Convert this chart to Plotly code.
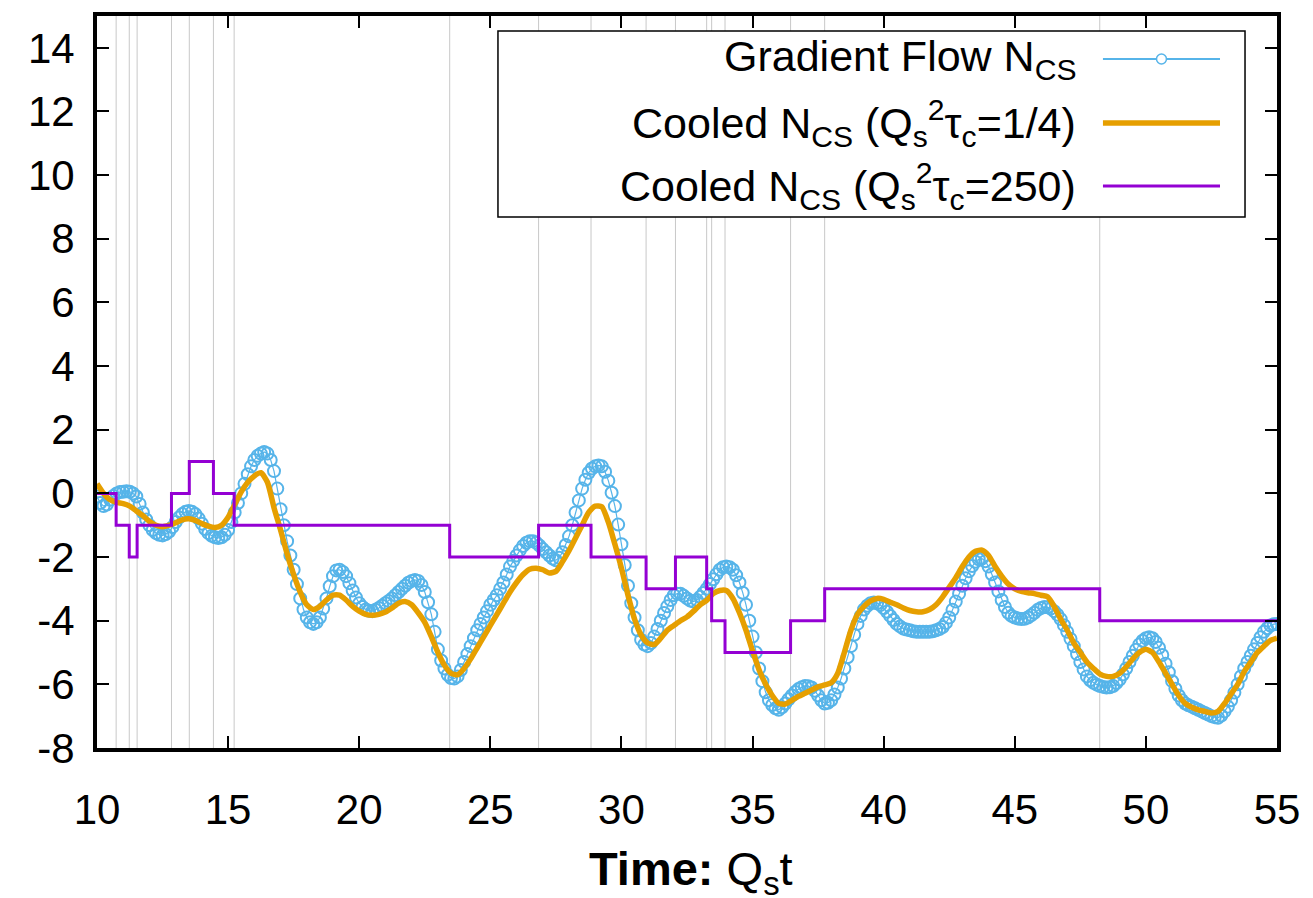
import plotly.graph_objects as go

# ---------------- data ----------------
# Gradient-flow N_CS, sampled every 0.125 in Qs*t (one row = one time unit)
t_grad = [10 + 0.125 * i for i in range(361)]
n_grad = [
    -0.10, -0.30, -0.40, -0.35, -0.20, -0.08, 0.00, 0.04,      # 10
    0.05, 0.07, 0.05, 0.00, -0.10, -0.33, -0.60, -0.82,        # 11
    -1.00, -1.15, -1.25, -1.30, -1.32, -1.28, -1.20, -1.06,    # 12
    -0.90, -0.76, -0.65, -0.58, -0.55, -0.58, -0.65, -0.79,    # 13
    -0.95, -1.12, -1.25, -1.33, -1.38, -1.40, -1.38, -1.30,    # 14
    -1.15, -0.90, -0.60, -0.30, 0.00, 0.30, 0.60, 0.85,        # 15
    1.05, 1.18, 1.25, 1.30, 1.25, 1.05, 0.70, 0.15,            # 16
    -0.50, -1.00, -1.50, -1.95, -2.40, -2.85, -3.30, -3.65,    # 17
    -3.90, -4.05, -4.10, -4.05, -3.90, -3.62, -3.30, -2.92,    # 18
    -2.60, -2.42, -2.40, -2.47, -2.60, -2.82, -3.05, -3.27,    # 19
    -3.45, -3.57, -3.65, -3.69, -3.70, -3.66, -3.60, -3.53,    # 20
    -3.45, -3.38, -3.30, -3.20, -3.10, -3.00, -2.90, -2.81,    # 21
    -2.75, -2.72, -2.75, -2.88, -3.10, -3.42, -3.80, -4.35,    # 22
    -4.90, -5.25, -5.50, -5.70, -5.80, -5.82, -5.75, -5.55,    # 23
    -5.30, -5.05, -4.80, -4.55, -4.30, -4.10, -3.90, -3.70,    # 24
    -3.50, -3.35, -3.20, -3.00, -2.80, -2.55, -2.30, -2.12,    # 25
    -1.95, -1.79, -1.65, -1.55, -1.50, -1.50, -1.55, -1.64,    # 26
    -1.75, -1.85, -1.95, -2.05, -2.10, -2.02, -1.85, -1.62,    # 27
    -1.35, -1.00, -0.60, -0.22, 0.15, 0.43, 0.65, 0.78,        # 28
    0.85, 0.88, 0.85, 0.68, 0.40, 0.02, -0.40, -0.98,          # 29
    -1.60, -2.25, -2.90, -3.45, -3.90, -4.30, -4.60, -4.75,    # 30
    -4.80, -4.70, -4.50, -4.26, -4.00, -3.76, -3.55, -3.35,    # 31
    -3.20, -3.15, -3.15, -3.22, -3.30, -3.37, -3.40, -3.35,    # 32
    -3.25, -3.13, -3.00, -2.85, -2.70, -2.54, -2.40, -2.32,    # 33
    -2.30, -2.32, -2.40, -2.57, -2.80, -3.12, -3.50, -4.00,    # 34
    -4.50, -5.00, -5.50, -5.90, -6.25, -6.50, -6.65, -6.75,    # 35
    -6.80, -6.72, -6.60, -6.47, -6.35, -6.24, -6.15, -6.09,    # 36
    -6.05, -6.06, -6.10, -6.20, -6.35, -6.50, -6.60, -6.58,    # 37
    -6.50, -6.32, -6.10, -5.82, -5.50, -5.15, -4.80, -4.44,    # 38
    -4.10, -3.85, -3.65, -3.53, -3.45, -3.43, -3.45, -3.51,    # 39
    -3.60, -3.72, -3.85, -3.98, -4.10, -4.18, -4.25, -4.28,    # 40
    -4.30, -4.33, -4.35, -4.35, -4.35, -4.35, -4.35, -4.33,    # 41
    -4.30, -4.26, -4.20, -4.07, -3.90, -3.66, -3.40, -3.15,    # 42
    -2.90, -2.67, -2.45, -2.28, -2.15, -2.07, -2.05, -2.13,    # 43
    -2.30, -2.54, -2.80, -3.08, -3.35, -3.57, -3.75, -3.85,    # 44
    -3.90, -3.93, -3.95, -3.94, -3.90, -3.83, -3.75, -3.66,    # 45
    -3.60, -3.57, -3.58, -3.62, -3.70, -3.81, -3.95, -4.14,    # 46
    -4.35, -4.57, -4.80, -5.05, -5.30, -5.53, -5.75, -5.87,    # 47
    -5.95, -6.01, -6.05, -6.08, -6.10, -6.09, -6.05, -5.96,    # 48
    -5.85, -5.69, -5.50, -5.30, -5.10, -4.91, -4.75, -4.63,    # 49
    -4.55, -4.52, -4.55, -4.67, -4.85, -5.08, -5.35, -5.62,    # 50
    -5.90, -6.14, -6.35, -6.50, -6.60, -6.66, -6.70, -6.75,    # 51
    -6.80, -6.85, -6.90, -6.95, -7.00, -7.03, -7.05, -6.98,    # 52
    -6.85, -6.70, -6.50, -6.26, -6.00, -5.75, -5.50, -5.30,    # 53
    -5.10, -4.90, -4.70, -4.52, -4.35, -4.24, -4.15, -4.11,    # 54
    -4.10,                                                     # 55
]

# Cooled N_CS at Qs^2 tau_c = 1/4, sampled every 0.25
t_cool = [10 + 0.25 * i for i in range(181)]
n_cool_quarter = [
    0.30, 0.00, -0.20, -0.28, -0.32, -0.40, -0.55, -0.70, -0.88, -1.00,    # 10.0 - 12.25
    -1.05, -1.00, -0.92, -0.83, -0.80, -0.85, -0.95, -1.03, -1.07, -1.00,  # 12.5 - 14.75
    -0.75, -0.35, 0.05, 0.35, 0.55, 0.65, 0.35, -0.45, -1.15, -1.90,       # 15.0 - 17.25
    -2.55, -3.10, -3.50, -3.65, -3.55, -3.35, -3.20, -3.20, -3.35, -3.55,  # 17.5 - 19.75
    -3.70, -3.80, -3.83, -3.80, -3.73, -3.60, -3.45, -3.40, -3.50, -3.75,  # 20.0 - 22.25
    -4.05, -4.50, -5.00, -5.40, -5.65, -5.70, -5.50, -5.20, -4.85, -4.50,  # 22.5 - 24.75
    -4.15, -3.80, -3.45, -3.10, -2.80, -2.55, -2.38, -2.35, -2.40, -2.50,  # 25.0 - 27.25
    -2.45, -2.15, -1.80, -1.40, -1.00, -0.60, -0.40, -0.42, -0.90, -1.60,  # 27.5 - 29.75
    -2.35, -3.20, -3.95, -4.45, -4.70, -4.75, -4.55, -4.30, -4.15, -4.00,  # 30.0 - 32.25
    -3.88, -3.70, -3.50, -3.36, -3.15, -3.05, -3.05, -3.30, -3.75, -4.30,  # 32.5 - 34.75
    -4.95, -5.55, -6.00, -6.35, -6.60, -6.62, -6.50, -6.38, -6.28, -6.18,  # 35.0 - 37.25
    -6.08, -6.02, -5.95, -5.65, -5.00, -4.30, -3.80, -3.55, -3.38, -3.30,  # 37.5 - 39.75
    -3.33, -3.42, -3.50, -3.60, -3.68, -3.72, -3.72, -3.65, -3.50, -3.25,  # 40.0 - 42.25
    -2.95, -2.65, -2.30, -2.00, -1.82, -1.78, -1.95, -2.30, -2.60, -2.85,  # 42.5 - 44.75
    -3.00, -3.08, -3.12, -3.15, -3.20, -3.25, -3.55, -3.95, -4.30, -4.70,  # 45.0 - 47.25
    -5.00, -5.30, -5.50, -5.68, -5.75, -5.75, -5.65, -5.45, -5.20, -5.00,  # 47.5 - 49.75
    -4.90, -5.00, -5.30, -5.65, -6.00, -6.35, -6.60, -6.72, -6.80, -6.85,  # 50.0 - 52.25
    -6.90, -6.85, -6.60, -6.30, -6.00, -5.60, -5.30, -5.00, -4.80, -4.62,  # 52.5 - 54.75
    -4.55,                                                                  # 55.0
]

# Cooled N_CS at Qs^2 tau_c = 250: integer plateaus and switching times
switch_times = [10.73, 11.23, 11.53, 12.84, 13.52, 14.44, 15.23, 23.45, 26.84,
                28.84, 30.94, 32.06, 33.25, 33.44, 33.95, 36.45, 37.75, 48.24]
levels_250 = [0, -1, -2, -1, 0, 1, 0, -1, -2, -1,
              -2, -3, -2, -3, -4, -5, -4, -3, -4]
t_start, t_end = 10, 55

x_ticks = [10, 15, 20, 25, 30, 35, 40, 45, 50, 55]
x_tick_labels = ["10", "15", "20", "25", "30", "35", "40", "45", "50", "55"]
y_ticks = [-8, -6, -4, -2, 0, 2, 4, 6, 8, 10, 12, 14]
y_tick_labels = ["-8", "-6", "-4", "-2", "0", "2", "4", "6", "8", "10", "12", "14"]

legend_labels = [
    "Gradient Flow N<sub>CS</sub>",
    "Cooled N<sub>CS</sub> (Q<sub>s</sub><sup>2</sup>τ<sub>c</sub>=1/4)",
    "Cooled N<sub>CS</sub> (Q<sub>s</sub><sup>2</sup>τ<sub>c</sub>=250)",
]

# ---------------- styling ----------------
BLUE = "#56b4e9"
ORANGE = "#e69f00"
PURPLE = "#9400d3"
FONT = "Liberation Sans, Arial, Helvetica, sans-serif"

step_x = [t_start] + switch_times + [t_end]
step_y = levels_250 + [levels_250[-1]]

fig = go.Figure()
fig.add_trace(go.Scatter(
    x=t_grad, y=n_grad, mode="lines+markers",
    line=dict(color=BLUE, width=1.2),
    marker=dict(symbol="circle-open", size=12, color=BLUE, line=dict(width=2, color=BLUE)),
    showlegend=False, name="Gradient Flow"))
fig.add_trace(go.Scatter(
    x=t_cool, y=n_cool_quarter, mode="lines",
    line=dict(color=ORANGE, width=5.5, shape="spline", smoothing=0.6),
    showlegend=False, name="Cooled 1/4"))
fig.add_trace(go.Scatter(
    x=step_x, y=step_y, mode="lines",
    line=dict(color=PURPLE, width=3, shape="hv"),
    showlegend=False, name="Cooled 250"))

shapes = []
for ts in switch_times:
    shapes.append(dict(type="line", xref="x", yref="paper", x0=ts, x1=ts, y0=0, y1=1,
                       line=dict(color="#c8c8c8", width=1), layer="below"))

# hand-made legend (text left, sample right, as in the reference)
box_x0, box_x1, box_y0, box_y1 = 0.3398, 0.9729, 0.7254, 0.9795
shapes.append(dict(type="rect", xref="paper", yref="paper", x0=box_x0, x1=box_x1,
                   y0=box_y0, y1=box_y1, fillcolor="white",
                   line=dict(color="black", width=1.5), layer="above"))
row_y = [0.9413, 0.8538, 0.7678]
sample_x0, sample_x1 = 0.8525, 0.9517
sample_styles = [(BLUE, 2), (ORANGE, 5.5), (PURPLE, 3)]
annotations = []
for lab, ry, (col, w) in zip(legend_labels, row_y, sample_styles):
    shapes.append(dict(type="line", xref="paper", yref="paper", x0=sample_x0, x1=sample_x1,
                       y0=ry, y1=ry, line=dict(color=col, width=w), layer="above"))
    annotations.append(dict(xref="paper", yref="paper", x=0.8314, y=ry, text=lab,
                            showarrow=False, xanchor="right", yanchor="middle",
                            font=dict(family=FONT, size=43, color="black")))
# circle on the gradient-flow sample
cx = (sample_x0 + sample_x1) / 2
shapes.append(dict(type="circle", xref="paper", yref="paper",
                   x0=cx - 0.0042, x1=cx + 0.0042, y0=row_y[0] - 0.0068, y1=row_y[0] + 0.0068,
                   line=dict(color=BLUE, width=1.5), fillcolor="white", layer="above"))

annotations.append(dict(xref="paper", yref="paper", x=0.503, y=-0.126,
                        text="<b>Time:</b> Q<sub>s</sub>t", showarrow=False,
                        xanchor="center", yanchor="top",
                        font=dict(family=FONT, size=47, color="black")))

axis_common = dict(showgrid=False, zeroline=False, showline=True, linecolor="black",
                   linewidth=4, mirror="ticks", ticks="inside", ticklen=12,
                   tickwidth=1.5, tickcolor="black",
                   tickfont=dict(family=FONT, size=42, color="black"))

fig.update_layout(
    width=1313, height=898,
    margin=dict(l=97, r=36, t=16, b=150),
    paper_bgcolor="white", plot_bgcolor="white",
    xaxis=dict(range=[10, 55], tickvals=x_ticks, ticktext=x_tick_labels,
               ticklabelstandoff=22, **axis_common),
    yaxis=dict(range=[-8, 15], tickvals=y_ticks, ticktext=y_tick_labels,
               ticklabelstandoff=10, **axis_common),
    shapes=shapes, annotations=annotations, showlegend=False,
)

fig.write_html("out.html")
